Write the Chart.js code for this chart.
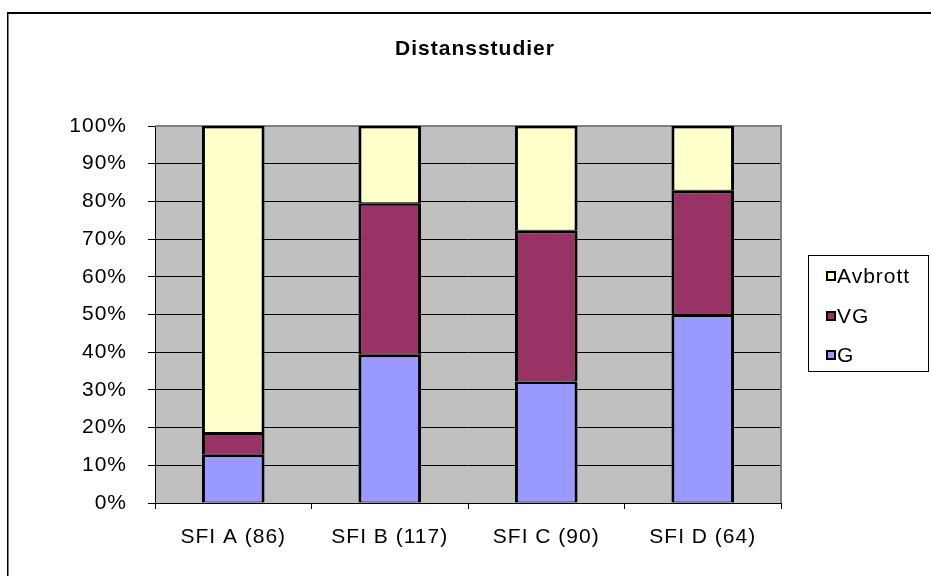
<!DOCTYPE html>
<html>
<head>
<meta charset="utf-8">
<script src="https://cdn.jsdelivr.net/npm/chart.js@4.4.1/dist/chart.umd.min.js"></script>
<style>
  html, body { margin: 0; padding: 0; background: #fff; }
  #wrap { width: 931px; height: 576px; }
</style>
</head>
<body>
<div id="wrap"><canvas id="chart" width="931" height="576"></canvas></div>
<script>
// data (percent of each group)
const TITLE = 'Distansstudier';
const CATEGORIES = ['SFI A (86)', 'SFI B (117)', 'SFI C (90)', 'SFI D (64)'];
const G_PCT       = [12.8, 39.3, 32.2, 50.0];
const VG_PCT      = [5.8, 40.2, 40.0, 32.8];
const AVBROTT_PCT = [81.4, 20.5, 27.8, 17.2];
const Y_MAX = 100, Y_STEP = 10;

const FONT = '"Liberation Sans", Arial, sans-serif';
const FSIZE = 21;
const SPACING = '1px';
const COL = { G: '#9999FF', VG: '#993366', AV: '#FFFFCC', plot: '#C0C0C0', frame: '#808080' };

// Excel-ish look: grey plot area, outer frame, title and boxed legend
const excelLook = {
  id: 'excelLook',
  beforeDraw(chart) {
    const { ctx, chartArea: a } = chart;
    ctx.letterSpacing = SPACING;
    ctx.save();
    ctx.fillStyle = COL.plot;
    ctx.fillRect(a.left, a.top, a.right - a.left, a.bottom - a.top);
    ctx.restore();
  },
  beforeDatasetsDraw(chart) {
    const { ctx, chartArea: a } = chart;
    ctx.save();
    ctx.strokeStyle = COL.frame;
    ctx.lineWidth = 2;
    ctx.beginPath();
    ctx.moveTo(a.left, a.top);
    ctx.lineTo(a.right, a.top);
    ctx.lineTo(a.right, a.bottom);
    ctx.stroke();
    ctx.restore();
  },
  afterDraw(chart) {
    const ctx = chart.ctx;
    ctx.save();
    // chart frame
    ctx.fillStyle = '#000';
    ctx.fillRect(7, 12, 924, 2);
    ctx.fillRect(7, 12, 1.5, 564);

    // title
    ctx.letterSpacing = SPACING;
    ctx.font = 'bold ' + FSIZE + 'px ' + FONT;
    ctx.textAlign = 'center';
    ctx.textBaseline = 'middle';
    ctx.fillText(TITLE, 475, 49);

    // legend
    ctx.lineWidth = 1;
    ctx.strokeStyle = '#000';
    ctx.strokeRect(808.5, 255.5, 120, 116);
    ctx.font = FSIZE + 'px ' + FONT;
    ctx.textAlign = 'left';
    const ds = chart.data.datasets.slice().reverse();
    const ys = [276, 316, 355];
    ds.forEach((d, i) => {
      const y = ys[i];
      ctx.fillStyle = d.backgroundColor;
      ctx.fillRect(827, y - 4, 8, 8);
      ctx.lineWidth = 2;
      ctx.strokeRect(827, y - 4, 8, 8);
      ctx.fillStyle = '#000';
      ctx.fillText(d.label, 837, y + 1);
    });
    ctx.restore();
  }
};

const barStyle = {
  borderColor: '#000',
  borderWidth: { top: 2.5, right: 3, bottom: 1, left: 3 },
  borderSkipped: false,
  barPercentage: 0.4,
  categoryPercentage: 1.0
};

new Chart(document.getElementById('chart'), {
  type: 'bar',
  data: {
    labels: CATEGORIES,
    datasets: [
      { label: 'G',       data: G_PCT,       backgroundColor: COL.G,  ...barStyle },
      { label: 'VG',      data: VG_PCT,      backgroundColor: COL.VG, ...barStyle },
      { label: 'Avbrott', data: AVBROTT_PCT, backgroundColor: COL.AV, ...barStyle }
    ]
  },
  options: {
    responsive: false,
    animation: false,
    devicePixelRatio: 1,
    layout: { padding: { top: 126, right: 150, bottom: 0, left: 0 } },
    plugins: { legend: { display: false }, title: { display: false }, tooltip: { enabled: false } },
    scales: {
      x: {
        stacked: true,
        grid: { drawOnChartArea: false, drawTicks: true, tickLength: 6, offset: true, color: '#000' },
        border: { color: '#000', width: 1 },
        ticks: { color: '#000', font: { family: FONT, size: FSIZE }, padding: 16, maxRotation: 0 },
        afterFit: s => { s.height = 73; }
      },
      y: {
        stacked: true,
        min: 0,
        max: Y_MAX,
        grid: {
          color: c => (c.tick && c.tick.value === Y_MAX ? COL.frame : '#000'),
          tickColor: '#000',
          tickLength: 7,
          lineWidth: 1
        },
        border: { color: '#000', width: 1 },
        ticks: {
          stepSize: Y_STEP,
          color: '#000',
          font: { family: FONT, size: FSIZE },
          padding: 21,
          callback: v => v + '%'
        },
        afterFit: s => { s.width = 155; }
      }
    }
  },
  plugins: [excelLook]
});
</script>
</body>
</html>
